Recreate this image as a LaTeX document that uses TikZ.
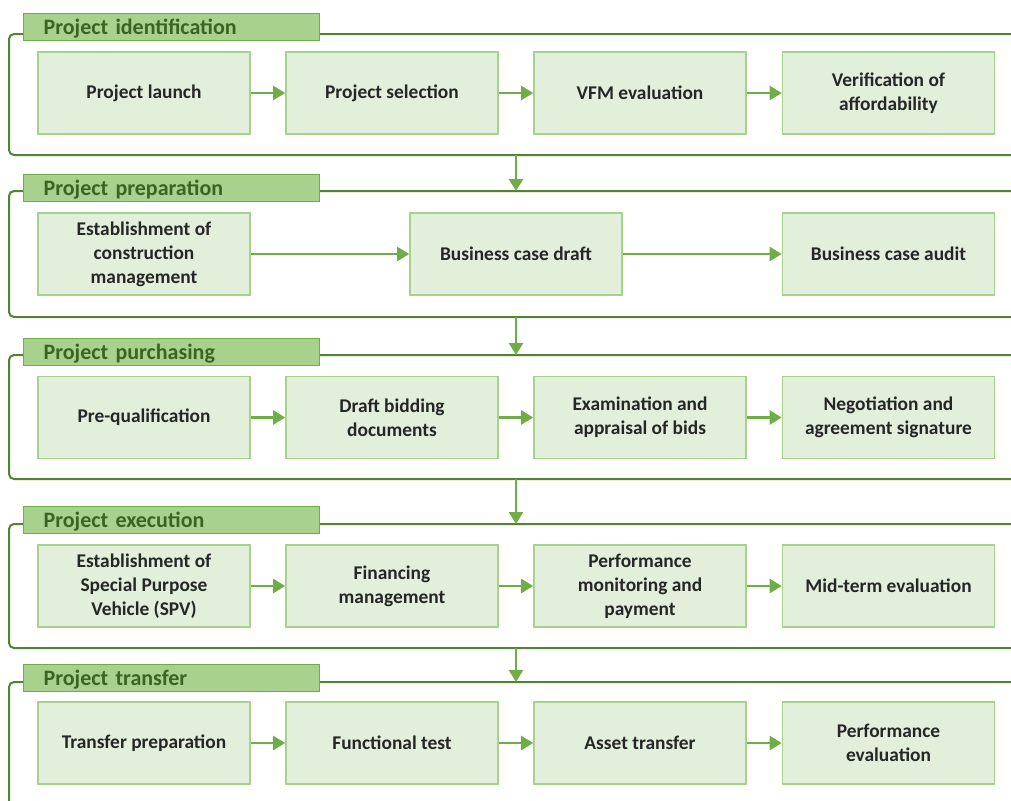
\documentclass[tikz,border=0pt]{standalone}
\usepackage{fontspec}
\setmainfont{Carlito}
\usetikzlibrary{arrows.meta}

\definecolor{tabfill}{HTML}{A9D18E}
\definecolor{tabline}{HTML}{70AD47}
\definecolor{tabtext}{HTML}{3B6424}
\definecolor{frameline}{HTML}{548235}
\definecolor{boxfill}{HTML}{E2EFDA}
\definecolor{boxline}{HTML}{A9D18E}
\definecolor{flowline}{HTML}{70AD47}
\definecolor{boxtext}{HTML}{262626}

\tikzset{
  phase/.style={draw=tabline, fill=tabfill, line width=0.6pt, anchor=north west,
    text height=10.5pt, text depth=3pt, inner xsep=10pt, inner ysep=0pt, text width=128pt,
    align=left, text=tabtext, font=\fontsize{11}{13}\selectfont\bfseries},
  phaseframe/.style={draw=frameline, line width=1pt, rounded corners=2.5pt},
  stepbox/.style={draw=boxline, fill=boxfill, line width=0.8pt, minimum width=106pt,
    minimum height=41pt, align=center, text=boxtext,
    font=\fontsize{9.7}{12}\selectfont\bfseries},
  flow/.style={draw=flowline, line width=1.2pt, -{Triangle[length=6pt,width=7pt]}}
}

\begin{document}
\begin{tikzpicture}[x=0.5pt, y=-0.5pt]

        \useasboundingbox (0,0) rectangle (1011,800);
        \clip (0,0) rectangle (1011,800);

        %Project identification
        \draw [phaseframe]  (9,34) rectangle (1030,155);
        \node [phase] (p1)  at (23,13)     {Project identification};
        \node [stepbox] (i1) at (144,93)   {Project launch};
        \node [stepbox] (i2) at (392,93)   {Project selection};
        \node [stepbox] (i3) at (640,93)   {VFM evaluation};
        \node [stepbox] (i4) at (888.5,93) {Verification of\\affordability};
        \draw [flow] (i1) -- (i2);
        \draw [flow] (i2) -- (i3);
        \draw [flow] (i3) -- (i4);

        %Project preparation
        \draw [phaseframe]  (9,191) rectangle (1030,317);
        \node [phase] (p2)  at (23,174)     {Project preparation};
        \node [stepbox] (r1) at (144,254)   {Establishment of\\construction\\management};
        \node [stepbox] (r2) at (516,254)   {Business case draft};
        \node [stepbox] (r3) at (888.5,254) {Business case audit};
        \draw [flow] (r1) -- (r2);
        \draw [flow] (r2) -- (r3);

        %Project purchasing
        \draw [phaseframe]  (9,355) rectangle (1030,479);
        \node [phase] (p3)  at (23,338)       {Project purchasing};
        \node [stepbox] (u1) at (144,417.5)   {Pre-qualification};
        \node [stepbox] (u2) at (392,417.5)   {Draft bidding\\documents};
        \node [stepbox] (u3) at (640,417.5)   {Examination and\\appraisal of bids};
        \node [stepbox] (u4) at (888.5,417.5) {Negotiation and\\agreement signature};
        \draw [flow] (u1) -- (u2);
        \draw [flow] (u2) -- (u3);
        \draw [flow] (u3) -- (u4);

        %Project execution
        \draw [phaseframe]  (9,524) rectangle (1030,648);
        \node [phase] (p4)  at (23,506)     {Project execution};
        \node [stepbox] (e1) at (144,586)   {Establishment of\\Special Purpose\\Vehicle (SPV)};
        \node [stepbox] (e2) at (392,586)   {Financing\\management};
        \node [stepbox] (e3) at (640,586)   {Performance\\monitoring and\\payment};
        \node [stepbox] (e4) at (888.5,586) {Mid-term evaluation};
        \draw [flow] (e1) -- (e2);
        \draw [flow] (e2) -- (e3);
        \draw [flow] (e3) -- (e4);

        %Project transfer
        \draw [phaseframe]  (9,682) rectangle (1030,830);
        \node [phase] (p5)  at (23,664)     {Project transfer};
        \node [stepbox] (t1) at (144,743)   {Transfer preparation};
        \node [stepbox] (t2) at (392,743)   {Functional test};
        \node [stepbox] (t3) at (640,743)   {Asset transfer};
        \node [stepbox] (t4) at (888.5,743) {Performance\\evaluation};
        \draw [flow] (t1) -- (t2);
        \draw [flow] (t2) -- (t3);
        \draw [flow] (t3) -- (t4);

        %Phase links
        \coordinate (d1) at (516,155);  \coordinate (d2) at (516,191);
        \coordinate (d3) at (516,317);  \coordinate (d4) at (516,355);
        \coordinate (d5) at (516,479);  \coordinate (d6) at (516,524);
        \coordinate (d7) at (516,648);  \coordinate (d8) at (516,682);
        \draw [flow] (d1) -- (d2);
        \draw [flow] (d3) -- (d4);
        \draw [flow] (d5) -- (d6);
        \draw [flow] (d7) -- (d8);

\end{tikzpicture}
\end{document}
